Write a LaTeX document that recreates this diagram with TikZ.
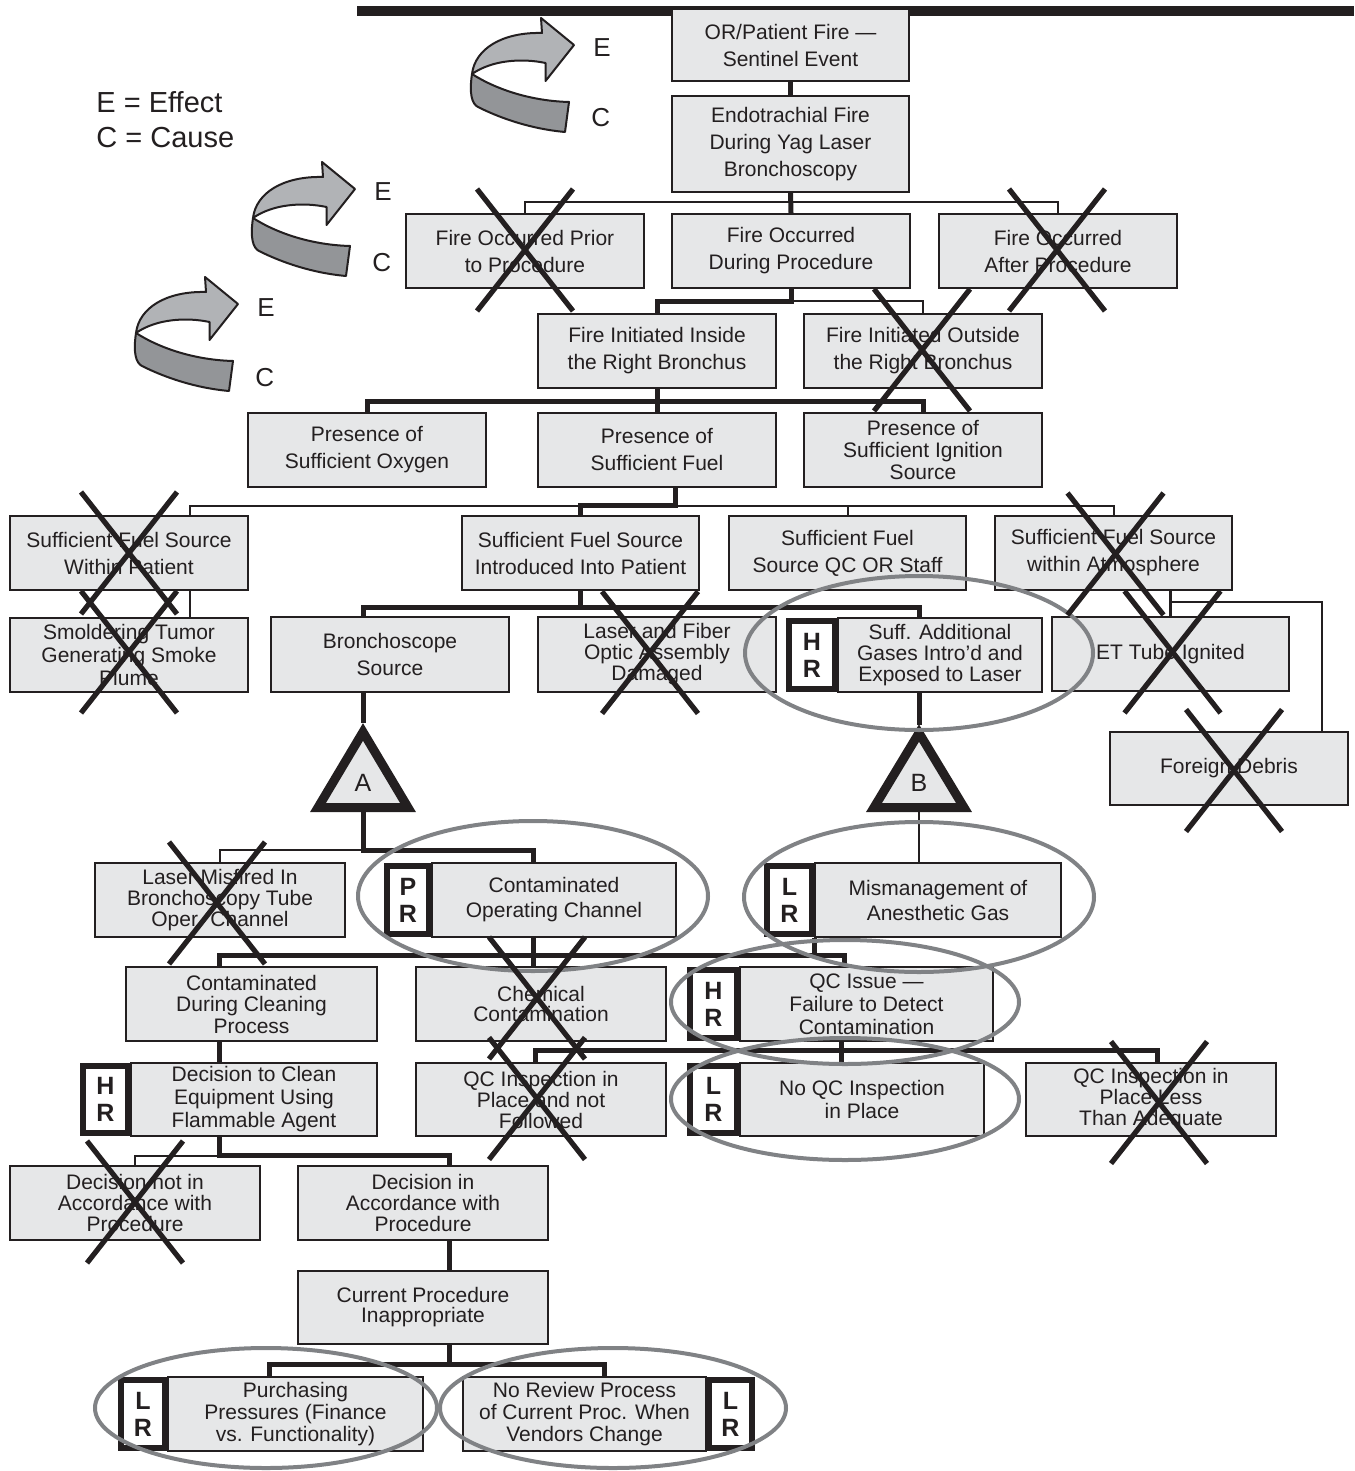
\documentclass[tikz,border=0pt]{standalone}
\usepackage{fontspec}
\setmainfont{Liberation Sans}
\usetikzlibrary{calc}
\definecolor{ink}{HTML}{231F20}
\definecolor{boxgray}{HTML}{E6E7E8}
\definecolor{ringgray}{HTML}{808285}
\definecolor{bandlight}{HTML}{B1B3B6}
\definecolor{banddark}{HTML}{939598}
\pgfdeclarelayer{bg}
\pgfsetlayers{bg,main}
\tikzset{
  box/.style={draw=ink, fill=boxgray, line width=0.9pt, inner sep=0pt, align=center, text=ink,
    font=\fontsize{10.5pt}{13.5pt}\selectfont},
  lsp/.style={font=\fontsize{10.5pt}{#1}\selectfont},
  tagbox/.style={draw=ink, fill=white, line width=2.9pt, inner sep=0pt, align=center, text=ink,
    font=\bfseries\fontsize{12.5pt}{13.5pt}\selectfont},
  thk/.style={draw=ink, line width=2.5pt},
  thn/.style={draw=ink, line width=1pt},
  medl/.style={draw=ink, line width=1.6pt},
  xmark/.style={draw=ink, line width=2.6pt},
  ring/.style={draw=ringgray, line width=2pt},
  tri/.style={draw=ink, fill=boxgray, line width=4.5pt, line join=miter},
  lbl/.style={text=ink, inner sep=0pt},
  ecarrow/.pic={
    \filldraw[fill=bandlight, draw=ink, line width=1pt, line join=round]
      (0,0) .. controls (3,-25) and (30,-42) .. (70,-41) -- (69,-56) -- (102,-29)
      -- (73.5,7) -- (73.5,-11) .. controls (50,-16) and (20,-14) .. (0,0) -- cycle;
    \filldraw[fill=banddark, draw=ink, line width=1pt, line join=round]
      (0,0) .. controls (-3,20) and (0,30) .. (6,33) .. controls (30,45) and (60,55) .. (93,58)
      -- (97,28) .. controls (60,27) and (25,16) .. (0,0) -- cycle;
  }
}
\newcommand\mybox[7][]{\node[box,#1,minimum width={(#5-#3)*0.5pt},minimum height={(#6-#4)*0.5pt}] (#2) at ({(#3+#5)/2},{(#4+#6)/2}) {#7};}
\newcommand\mytag[6]{\node[tagbox,minimum width={(#4-#2)*0.5pt-2.9pt},minimum height={(#5-#3)*0.5pt-2.9pt}] (#1) at ({(#2+#4)/2},{(#3+#5)/2}) {#6};}
\newcommand\mycross[3]{%
  \draw[xmark] ($(#1)+(#2-48,#3-61)$) -- ($(#1)+(#2+48,#3+61)$);
  \draw[xmark] ($(#1)+(#2+48,#3-61)$) -- ($(#1)+(#2-48,#3+61)$);}
\begin{document}
\begin{tikzpicture}[x=0.5pt,y=-0.5pt]
\useasboundingbox (0,0) rectangle (1354,1471);

% legend
\node[lbl, anchor=base west, font=\fontsize{14.5pt}{14.5pt}\selectfont] (legE) at (96,113) {E = Effect};
\node[lbl, anchor=base west, font=\fontsize{14.5pt}{14.5pt}\selectfont] (legC) at (96,148) {C = Cause};

% effect/cause arrows
\pic at (472,74) {ecarrow};
\pic at (253,218) {ecarrow};
\pic at (136,333) {ecarrow};
\node[lbl, anchor=base west, font=\fontsize{13pt}{13pt}\selectfont] (e1) at (593,57) {E};
\node[lbl, anchor=base west, font=\fontsize{13pt}{13pt}\selectfont] (c1) at (591,127) {C};
\node[lbl, anchor=base west, font=\fontsize{13pt}{13pt}\selectfont] (e2) at (374,201) {E};
\node[lbl, anchor=base west, font=\fontsize{13pt}{13pt}\selectfont] (c2) at (372,271) {C};
\node[lbl, anchor=base west, font=\fontsize{13pt}{13pt}\selectfont] (e3) at (257,316) {E};
\node[lbl, anchor=base west, font=\fontsize{13pt}{13pt}\selectfont] (c3) at (255,386) {C};

% boxes
\mybox{sentinel}{672}{9}{909}{81}{OR/Patient Fire —\\Sentinel Event}
\mybox{endo}{672}{96}{909}{192}{Endotrachial Fire\\During Yag Laser\\Bronchoscopy}
\mybox{prior}{406}{214}{644}{288}{Fire Occurred Prior\\to Procedure}
\mybox{during}{672}{214}{910}{288}{Fire Occurred\\During Procedure}
\mybox{after}{939}{214}{1177}{288}{Fire Occurred\\After Procedure}
\mybox{inside}{538}{314}{776}{388}{Fire Initiated Inside\\the Right Bronchus}
\mybox{outside}{804}{314}{1042}{388}{Fire Initiated Outside\\the Right Bronchus}
\mybox{oxy}{248}{413}{486}{487}{Presence of\\Sufficient Oxygen}
\mybox{fuel}{538}{413}{776}{487}{Presence of\\Sufficient Fuel}
\mybox[lsp=11pt]{ign}{804}{413}{1042}{487}{Presence of\\Sufficient Ignition\\Source}
\mybox{within}{10}{516}{248}{590}{Sufficient Fuel Source\\Within Patient}
\mybox{intro}{462}{516}{699}{590}{Sufficient Fuel Source\\Introduced Into Patient}
\mybox{staff}{729}{516}{966}{590}{Sufficient Fuel\\Source QC OR Staff}
\mybox{atmos}{995}{516}{1232}{590}{Sufficient Fuel Source\\within Atmosphere}
\mybox[lsp=11.5pt]{smold}{10}{618}{248}{692}{Smoldering Tumor\\Generating Smoke\\Plume}
\mybox{bronch}{271}{617}{509}{692}{Bronchoscope\\Source}
\mybox[lsp=10.5pt]{laser}{538}{617}{776}{692}{Laser and Fiber\\Optic Assembly\\Damaged}
\mybox[lsp=10.5pt]{suff}{838}{618}{1042}{692}{Suff. Additional\\Gases Intro’d and\\Exposed to Laser}
\mytag{suffT}{786}{618}{838}{692}{H\\R}
\mybox{ettube}{1052}{617}{1289}{691}{ET Tube Ignited}
\mybox{debris}{1110}{732}{1348}{805}{Foreign Debris}
\mybox[lsp=10.5pt]{misf}{95}{863}{345}{937}{Laser Misfired In\\Bronchoscopy Tube\\Oper. Channel}
\mybox[lsp=12.5pt]{cop}{432}{863}{676}{937}{Contaminated\\Operating Channel}
\mytag{copT}{384}{863}{432}{937}{P\\R}
\mybox[lsp=12.5pt]{mism}{815}{863}{1061}{937}{Mismanagement of\\Anesthetic Gas}
\mytag{mismT}{764}{863}{815}{937}{L\\R}
\mybox[lsp=10.75pt]{ccp}{126}{967}{377}{1041}{Contaminated\\During Cleaning\\Process}
\mybox[lsp=10pt]{chem}{416}{967}{666}{1041}{Chemical\\Contamination}
\mybox[lsp=11.5pt]{qci}{740}{967}{993}{1041}{QC Issue —\\Failure to Detect\\Contamination}
\mytag{qciT}{687}{967}{740}{1041}{H\\R}
\mybox[lsp=11.5pt]{dtc}{131}{1063}{377}{1136}{Decision to Clean\\Equipment Using\\Flammable Agent}
\mytag{dtcT}{80}{1063}{131}{1136}{H\\R}
\mybox[lsp=10.5pt]{qcnf}{416}{1063}{666}{1136}{QC Inspection in\\Place and not\\Followed}
\mybox[lsp=11.5pt]{noqc}{740}{1063}{984}{1136}{No QC Inspection\\in Place}
\mytag{noqcT}{687}{1063}{740}{1136}{L\\R}
\mybox[lsp=10.5pt]{qcla}{1026}{1063}{1276}{1136}{QC Inspection in\\Place Less\\Than Adequate}
\mybox[lsp=10.5pt]{dnia}{10}{1166}{260}{1240}{Decision not in\\Accordance with\\Procedure}
\mybox[lsp=10.5pt]{dia}{298}{1166}{548}{1240}{Decision in\\Accordance with\\Procedure}
\mybox[lsp=10pt]{cpi}{298}{1271}{548}{1344}{Current Procedure\\Inappropriate}
\mybox[lsp=11pt]{purch}{168}{1377}{423}{1451}{Purchasing\\Pressures (Finance\\vs. Functionality)}
\mytag{purchT}{118}{1377}{168}{1451}{L\\R}
\mybox[lsp=11pt]{norev}{463}{1377}{706}{1451}{No Review Process\\of Current Proc. When\\Vendors Change}
\mytag{norevT}{706}{1377}{755}{1451}{L\\R}

% transfer triangles
\coordinate (Atop) at (363,723);
\coordinate (Abot) at (363,812);
\coordinate (Btop) at (919,725);
\coordinate (Bbot) at (919,812);
\draw[tri] (363,732) -- (408,807.5) -- (318,807.5) -- cycle;
\draw[tri] (919,733) -- (964,807.5) -- (874,807.5) -- cycle;
\node[lbl, font=\fontsize{12.5pt}{12.5pt}\selectfont] (labA) at (363,783) {A};
\node[lbl, font=\fontsize{12.5pt}{12.5pt}\selectfont] (labB) at (919,783) {B};

% connectors
\begin{pgfonlayer}{bg}
\draw[draw=ink, line width=5pt] (357,11) -- (1354,11);
\draw[thk] (sentinel.south) -- (endo.north);
\draw[thk] (endo.south) -- (during.north);
\draw[thn] (prior.north) -- ++(0,-11) -| (after.north);
\draw[thk] (during.south) -- ++(0,13) -| (inside.north);
\draw[thn] ($(during.south)+(0,12)$) -| (outside.north);
\draw[thk] (inside.south) -- (fuel.north);
\draw[thk] ($(inside.south)+(0,13)$) -| (oxy.north);
\draw[thk] ($(inside.south)+(0,13)$) -| (ign.north);
\coordinate (fbus) at ($(fuel.south)+(18,18)$);
\draw[thn] ($(smold.north)+(61,0)$) |- (fbus) -- (fbus -| atmos.north) -- (atmos.north);
\draw[thn] (fbus -| staff.north) -- (staff.north);
\draw[thk] ($(fuel.south)+(18,0)$) -- (fbus) -| (intro.north);
\coordinate (ibus) at ($(intro.south)+(0,17)$);
\draw[thk] (intro.south) -- (ibus);
\draw[thk] (bronch.north -| Atop) |- (ibus) -| (suff.north -| Btop);
\draw[medl] (atmos.south -| ettube.north) -- (ettube.north);
\draw[thn] ($(ettube.north)+(0,-14)$) -| ($(debris.north)+(93,0)$);
\draw[thk] (bronch.south -| Atop) -- (Atop);
\draw[thk] (suff.south -| Btop) -- (Btop);
\coordinate (abus) at ($(Abot)+(0,38)$);
\draw[thn] (abus) -| (misf.north);
\draw[thk] (Abot) -- (abus) -| ($(cop.north)+(-21,0)$);
\draw[thn] (Bbot) -- (mism.north -| Bbot);
\coordinate (b9) at ($(cop.south)+(-21,18)$);
\draw[thk] ($(cop.south)+(-21,0)$) -- (b9) -- (chem.north -| b9);
\draw[thk] (mism.south west) -- (mism.south west |- b9);
\draw[thk] ($(ccp.north)+(-32,0)$) |- (b9) -| ($(qci.north)+(-22,0)$);
\draw[thk] ($(ccp.south)+(-32,0)$) coordinate (c1) -- (c1 |- dtc.north);
\coordinate (b10) at ($(qci.south)+(-25,9)$);
\draw[thk] ($(qci.south)+(-25,0)$) -- (b10) -- (b10 |- noqc.north);
\draw[thk] ($(qcnf.north)+(-6,0)$) |- (b10) -| ($(qcla.north)+(6,0)$);
\coordinate (b11) at ($(dtc.south)+(-35,19)$);
\draw[thn] (b11) -| (dnia.north);
\draw[thk] ($(dtc.south)+(-35,0)$) -- (b11) -| ($(dia.north)+(26,0)$);
\draw[thk] ($(dia.south)+(26,0)$) -- ($(cpi.north)+(26,0)$);
\coordinate (b12) at ($(cpi.south)+(26,20)$);
\draw[thk] ($(cpi.south)+(26,0)$) -- (b12);
\draw[thk] ($(purch.north)+(-26.5,0)$) |- (b12) -| ($(norev.north)+(19.5,0)$);
\end{pgfonlayer}

% highlight rings
\draw[ring] (919,653) ellipse [x radius=87pt, y radius=38.5pt];
\draw[ring] (533,896) ellipse [x radius=87.5pt, y radius=37.5pt];
\draw[ring] (919,897) ellipse [x radius=87.5pt, y radius=37.5pt];
\draw[ring] (845,1002) ellipse [x radius=87pt, y radius=31pt];
\draw[ring] (845,1099) ellipse [x radius=87pt, y radius=30.5pt];
\draw[ring] (266,1408) ellipse [x radius=85.5pt, y radius=30pt];
\draw[ring] (613,1408) ellipse [x radius=86.5pt, y radius=30pt];

% crosses
\mycross{prior}{0}{-1}
\mycross{after}{-1}{-1}
\mycross{outside}{-1}{-1}
\mycross{within}{0}{0}
\mycross{smold}{0}{-3}
\mycross{laser}{-7}{-2}
\mycross{atmos}{2}{1}
\mycross{ettube}{2}{-2}
\mycross{debris}{5}{2}
\mycross{misf}{-3}{3}
\mycross{chem}{-4}{-6}
\mycross{qcnf}{-4}{-1}
\mycross{qcla}{8}{3}
\mycross{dnia}{0}{-1}
\end{tikzpicture}
\end{document}
